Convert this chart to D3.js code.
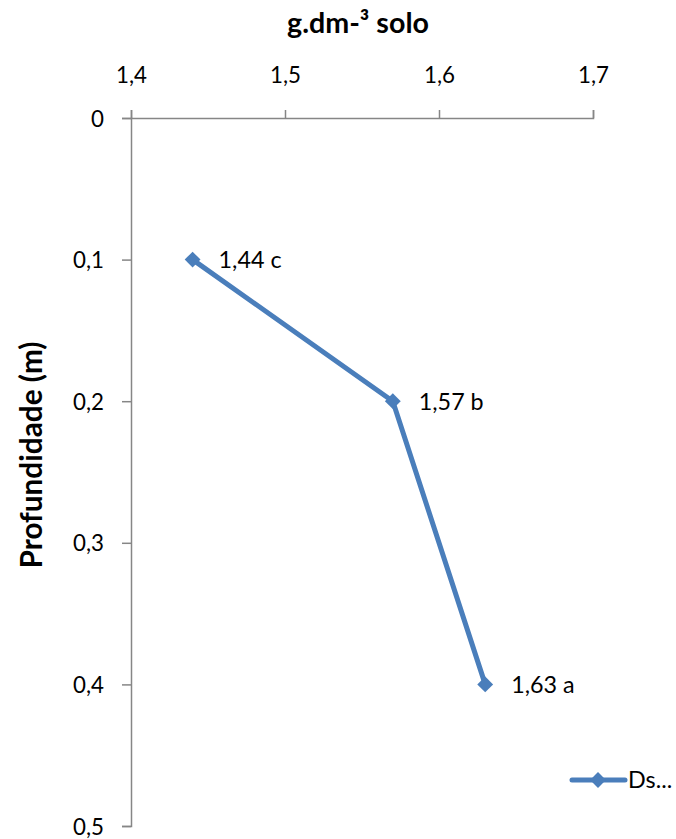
<!DOCTYPE html>
<html><head><meta charset="utf-8">
<script src="https://cdn.jsdelivr.net/npm/d3@7"></script>
<style>body{margin:0;background:#fff}svg{display:block}text{font-family:Lato,"Open Sans",sans-serif}</style>
</head><body>
<script>
const depths = [0.1, 0.2, 0.4];
const density = [1.44, 1.57, 1.63];
const labels = ["1,44 c", "1,57 b", "1,63 a"];
const xTicks = [1.4, 1.5, 1.6, 1.7];
const yTicks = [0, 0.1, 0.2, 0.3, 0.4, 0.5];
const seriesName = "Ds...";
const xTitle = "g.dm-³ solo";
const yTitle = "Profundidade (m)";

const W = 676, H = 839;
const svg = d3.select("body").append("svg").attr("width", W).attr("height", H);
const x = d3.scaleLinear().domain([1.4, 1.7]).range([131, 593]);
const y = d3.scaleLinear().domain([0, 0.5]).range([118, 826]);
const fmt = d => d3.format(".1f")(d).replace(".", ",");
const fmtY = d => d === 0 ? "0" : fmt(d);
const axisCol = "#868686";
const FF = "Lato, 'Open Sans', sans-serif";

// compute a font size so that a sample string reaches a target width
function fitSize(str, target, weight) {
  const t = svg.append("text").style("font-family", FF).style("font-size", "20px")
    .style("font-weight", weight || "normal").text(str);
  const w = t.node().getComputedTextLength();
  t.remove();
  return 20 * target / w;
}
const tickFS = fitSize("1,4", 31);
const lblFS = fitSize("1,44 c", 63);
const titleFS = fitSize(xTitle, 142, "bold");
const yTitleFS = fitSize(yTitle, 227, "bold");

const gx = svg.append("g").attr("transform", `translate(0,${y(0)})`)
  .call(d3.axisTop(x).tickValues(xTicks).tickSize(8).tickPadding(27).tickFormat(fmt));
const gy = svg.append("g").attr("transform", `translate(${x(1.4)},0)`)
  .call(d3.axisLeft(y).tickValues(yTicks).tickSize(9).tickPadding(18).tickFormat(fmtY));
[gx, gy].forEach(g => {
  g.select(".domain").attr("stroke", axisCol).attr("stroke-width", 1.5);
  g.selectAll(".tick line").attr("stroke", axisCol).attr("stroke-width", 1.5);
  g.selectAll(".tick text").attr("fill", "#000").style("font-size", tickFS + "px").style("font-family", FF);
});
gy.selectAll(".tick text").attr("dy", "0.36em");

svg.append("text").attr("x", 358).attr("y", 33).attr("text-anchor", "middle")
  .style("font-size", titleFS + "px").style("font-weight", "bold").text(xTitle);
svg.append("text").attr("transform", `translate(42,455) rotate(-90)`).attr("text-anchor", "middle")
  .style("font-size", yTitleFS + "px").style("font-weight", "bold").text(yTitle);

const blue = "#4a7ebb";
const data = depths.map((d, i) => ({ d, v: density[i], l: labels[i] }));
svg.append("path").datum(data)
  .attr("d", d3.line().x(p => x(p.v)).y(p => y(p.d)))
  .attr("fill", "none").attr("stroke", blue).attr("stroke-width", 5).attr("stroke-linejoin", "round");
const sym = d3.symbol().type(d3.symbolDiamond2).size(160);
svg.selectAll(".mk").data(data).enter().append("path")
  .attr("transform", p => `translate(${x(p.v)},${y(p.d)})`).attr("d", sym).attr("fill", blue);
svg.selectAll(".lb").data(data).enter().append("text")
  .attr("x", p => x(p.v) + 26).attr("y", p => y(p.d)).attr("dy", "0.36em")
  .style("font-size", lblFS + "px").text(p => p.l);

const lg = svg.append("g").attr("transform", "translate(0,780)");
lg.append("line").attr("x1", 572).attr("x2", 625).attr("stroke", blue).attr("stroke-width", 5).attr("stroke-linecap", "round");
lg.append("path").attr("transform", "translate(598,0)").attr("d", sym).attr("fill", blue);
lg.append("text").attr("x", 628).attr("dy", "0.36em").style("font-size", lblFS + "px").text(seriesName);
</script>
</body></html>
